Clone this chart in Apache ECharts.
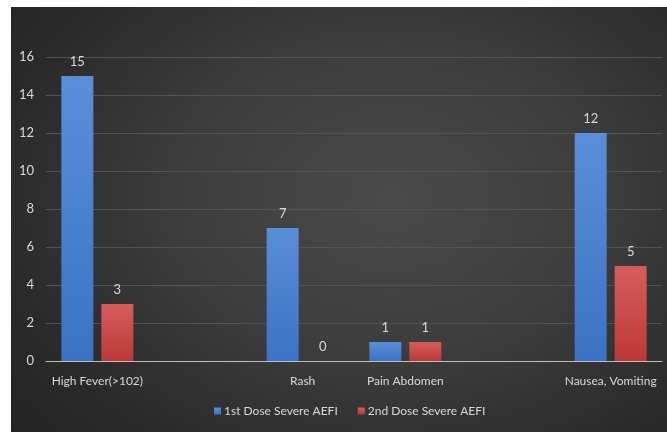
<!DOCTYPE html>
<html>
<head>
<meta charset="utf-8">
<script src="https://cdn.jsdelivr.net/npm/echarts@6/dist/echarts.min.js"></script>
<style>
html,body{margin:0;padding:0;background:#fff;}
#bg{position:absolute;left:11px;top:7px;width:656px;height:425px;
background:radial-gradient(ellipse 75% 85% at 58% 45%, #4a4a4a 0%, #3c3c3c 45%, #2a2a2a 80%, #242424 100%);}
#chart{position:absolute;left:0;top:0;width:667px;height:434px;}
</style>
</head>
<body>
<div id="bg"></div>
<div id="chart"></div>
<script>
const categories = ["High Fever(>102)", "", "Rash", "Pain Abdomen", "", "Nausea, Vomiting"];
const firstDose = [15, null, 7, 1, null, 12];
const secondDose = [3, null, 0, 1, null, 5];
const seriesNames = ["1st Dose Severe AEFI", "2nd Dose Severe AEFI"];
const yTicks = {min: 0, max: 16, interval: 2};

const chart = echarts.init(document.getElementById('chart'), null, {renderer: 'canvas'});
const font = 'Lato, "Open Sans", sans-serif';
const textColor = '#d9d9d9';
function grad(top, bottom) {
  return new echarts.graphic.LinearGradient(0, 0, 0, 1, [
    {offset: 0, color: top}, {offset: 1, color: bottom}
  ]);
}
const labelCfg = {show: true, position: 'top', distance: 8, color: textColor, fontSize: 13, fontFamily: font};
chart.setOption({
  backgroundColor: 'transparent',
  animation: false,
  grid: {left: 46, right: 5, top: 57, bottom: 73, containLabel: false},
  legend: {
    data: seriesNames,
    bottom: 12,
    left: 209,
    icon: 'rect',
    itemWidth: 7,
    itemHeight: 7,
    itemGap: 20,
    textStyle: {color: textColor, fontSize: 12, fontFamily: font, padding: [0, 0, 0, -2]}
  },
  xAxis: {
    type: 'category',
    data: categories,
    axisLine: {show: true, lineStyle: {color: '#bdbdbd', width: 1}},
    axisTick: {show: false},
    axisLabel: {color: textColor, fontSize: 12, fontFamily: font, margin: 14, interval: 0},
    splitLine: {show: false}
  },
  yAxis: {
    type: 'value',
    min: yTicks.min, max: yTicks.max, interval: yTicks.interval,
    axisLine: {show: false},
    axisTick: {show: false},
    axisLabel: {color: textColor, fontSize: 13, fontFamily: font, margin: 12},
    splitLine: {lineStyle: {color: '#535353', width: 1}}
  },
  series: [
    {
      name: seriesNames[0], type: 'bar', data: firstDose,
      barWidth: 32, barGap: '25%',
      itemStyle: {color: grad('#5b8ed8', '#3b72c3'), borderWidth: 0},
      label: labelCfg
    },
    {
      name: seriesNames[1], type: 'bar', data: secondDose,
      barWidth: 32, barGap: '25%',
      itemStyle: {color: grad('#d65d5d', '#bc3838'), borderWidth: 0},
      label: labelCfg
    }
  ]
});
</script>
</body>
</html>
